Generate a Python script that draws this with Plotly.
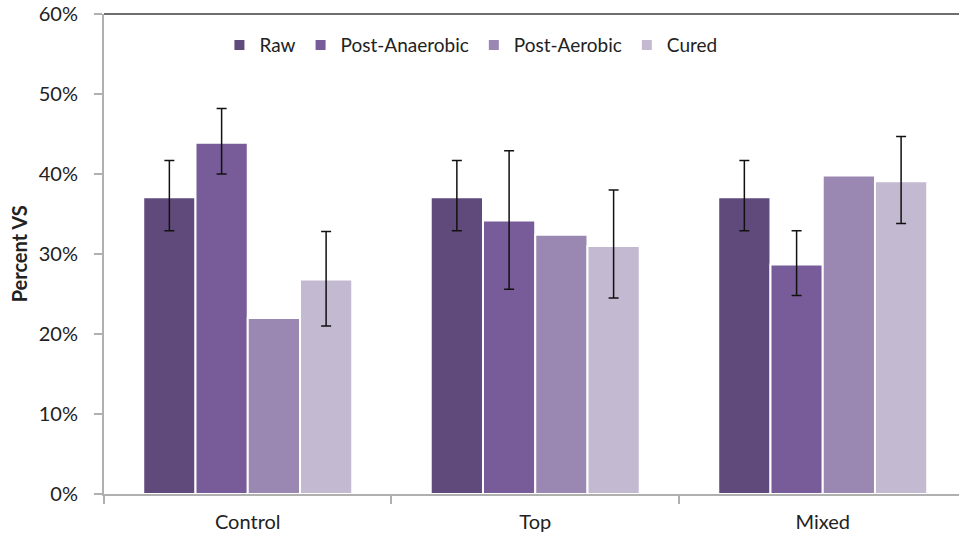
"""
Percent VS by treatment stage, grouped bars with error bars.
"""

import plotly.graph_objects as go

# ── Data ─────────────────────────────────────────────────────────────────────
CATEGORIES = ["Control", "Top", "Mixed"]
SERIES = ["Raw", "Post-Anaerobic", "Post-Aerobic", "Cured"]

RAW = [37.1, 37.1, 37.1]
RAW_ERR_PLUS = [4.6, 4.6, 4.6]
RAW_ERR_MINUS = [4.2, 4.2, 4.2]

POST_ANAEROBIC = [43.9, 34.2, 28.7]
POST_ANAEROBIC_ERR_PLUS = [4.3, 8.7, 4.2]
POST_ANAEROBIC_ERR_MINUS = [3.9, 8.6, 3.9]

POST_AEROBIC = [22.0, 32.4, 39.8]

CURED = [26.8, 31.0, 39.1]
CURED_ERR_PLUS = [6.0, 7.0, 5.6]
CURED_ERR_MINUS = [5.8, 6.5, 5.3]

Y_TICKS = [0, 10, 20, 30, 40, 50, 60]

# ── Theme ────────────────────────────────────────────────────────────────────
COLORS = ["#604A7B", "#775C99", "#9B88B2", "#C3B9D0"]
FONT = "Lato, 'Open Sans', sans-serif"
AXIS_GRAY = "#b0b0b0"


def _err(plus, minus):
    return dict(
        type="data", symmetric=False, array=plus, arrayminus=minus,
        color="#111111", thickness=1.5, width=5,
    )


values = [RAW, POST_ANAEROBIC, POST_AEROBIC, CURED]
errors = [
    _err(RAW_ERR_PLUS, RAW_ERR_MINUS),
    _err(POST_ANAEROBIC_ERR_PLUS, POST_ANAEROBIC_ERR_MINUS),
    dict(visible=False),
    _err(CURED_ERR_PLUS, CURED_ERR_MINUS),
]

fig = go.Figure()
for name, vals, err, color in zip(SERIES, values, errors, COLORS):
    fig.add_trace(go.Bar(
        x=CATEGORIES, y=vals, name=name,
        marker=dict(color=color, line=dict(color="white", width=2)),
        error_y=err,
    ))

# dark border along the top of the plot area
fig.add_shape(
    type="line", xref="paper", yref="paper", x0=0, x1=1, y0=1, y1=1,
    line=dict(color="#6e6e6e", width=2),
)

# y-axis title placed by hand (axis title can't be nudged without automargin)
fig.add_annotation(
    text="<b>Percent VS</b>", textangle=-90, showarrow=False,
    xref="paper", yref="paper", x=-0.099, y=0.5,
    xanchor="center", yanchor="middle", font=dict(size=20),
)

fig.update_layout(
    width=959, height=537,
    paper_bgcolor="white", plot_bgcolor="white",
    font=dict(family=FONT, size=20, color="#222222"),
    margin=dict(l=104, r=0, t=14, b=43),
    barmode="group", bargap=0.273, bargroupgap=0,
    showlegend=True,
    legend=dict(
        orientation="h", x=0.135, y=0.935, xanchor="left", yanchor="middle",
        font=dict(size=19), bgcolor="rgba(0,0,0,0)",
        itemwidth=30, traceorder="normal",
    ),
    xaxis=dict(
        range=[-0.5, 2.474], automargin=False,
        showline=True, linecolor=AXIS_GRAY, linewidth=2,
        ticks="outside", tickson="boundaries", ticklen=8,
        tickcolor=AXIS_GRAY, tickwidth=2, ticklabelstandoff=9,
        showgrid=False, tickfont=dict(size=20),
    ),
    yaxis=dict(
        range=[0, 60], automargin=False,
        tickmode="array", tickvals=Y_TICKS,
        ticktext=[f"{v}%" for v in Y_TICKS],
        showline=True, linecolor=AXIS_GRAY, linewidth=2,
        ticks="outside", ticklen=8, tickcolor=AXIS_GRAY, tickwidth=2,
        ticklabelstandoff=12, ticklabeloverflow="allow",
        showgrid=False, zeroline=False, tickfont=dict(size=20),
    ),
)

# drop the default 8px body margin so the figure sits at the page corner
fig.write_html(
    "out.html",
    config={"displayModeBar": False},
    post_script="document.body.style.margin = '0';",
)
